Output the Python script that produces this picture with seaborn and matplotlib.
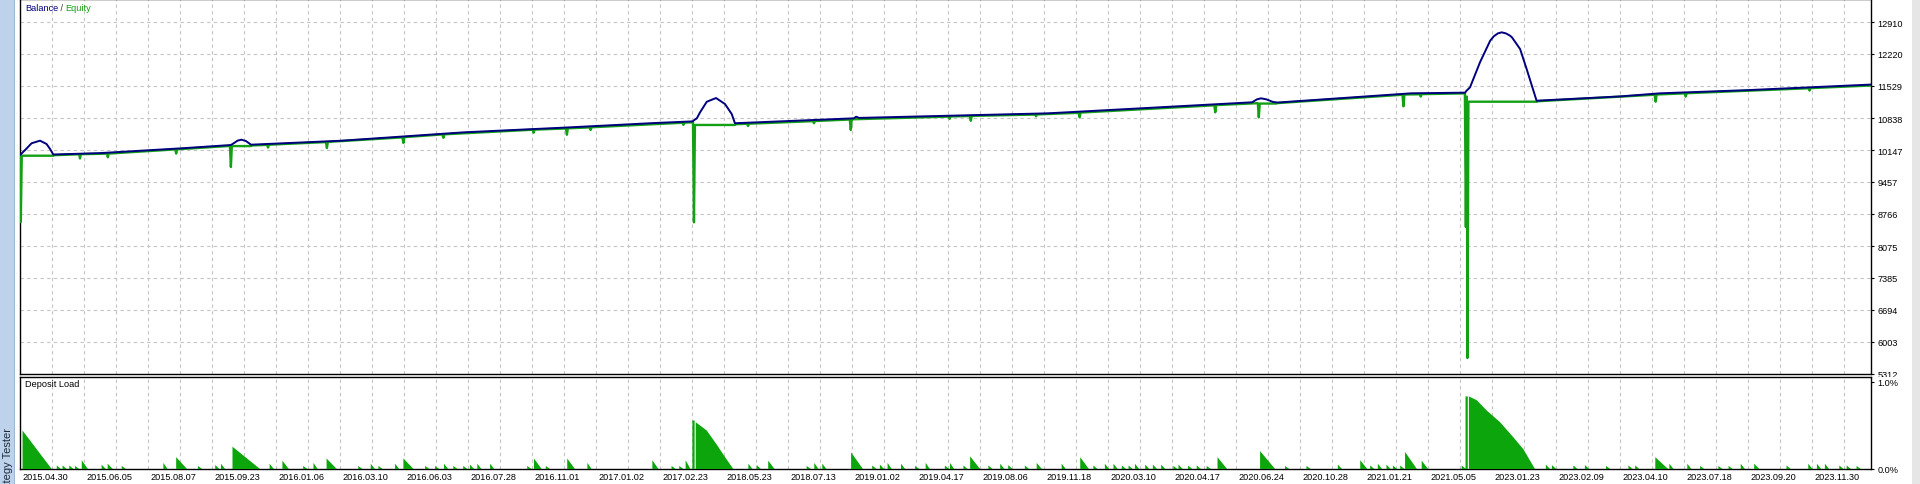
import matplotlib
matplotlib.use("Agg")
import matplotlib.pyplot as plt
import matplotlib.transforms as mtransforms
from matplotlib.patches import Rectangle
import seaborn as sns

# ---------------- data (x = trade number, y = account value) ----------------
balance_x = [0, 0.4, 2.1, 3.6, 6.25, 8.3, 9.4, 10.4, 25, 50.5, 65.9, 66.9, 68.0, 69.2, 70.6,
             72.2, 100.5, 138.75, 170, 198.4, 210.2, 210.6, 211.5, 212.5, 214.6, 217.5, 220.3,
             222.4, 223.4, 260.5, 261.3, 262.2, 321.25, 385, 386.5, 387.8, 389.5, 391.5, 393,
             434.7, 451.6, 451.9, 453.1, 456.25, 459.4, 460.5, 461.8, 463, 464.3, 465.5, 466.2,
             468.75, 470.8, 473.9, 500, 512.5, 540, 577.2, 578.4]
balance_y = [10040, 10065, 10183, 10292, 10349, 10277, 10169, 10050, 10080, 10184, 10255, 10298,
             10350, 10370, 10341, 10262, 10348, 10529, 10630, 10730, 10765, 10790, 10831, 10960,
             11189, 11269, 11140, 10924, 10725, 10831, 10866, 10840, 10939, 11177, 11240, 11263,
             11240, 11185, 11172, 11371, 11385, 11420, 11500, 12046, 12506, 12600, 12665, 12687,
             12665, 12620, 12580, 12327, 11895, 11211, 11304, 11371, 11440, 11556, 11560]

equity_x = [0, 0.25, 0.55, 10.4, 10.7, 18.5, 18.75, 19.0, 27.2, 27.45, 27.7, 48.5, 48.8, 49.1,
            65.6, 65.9, 66.2, 72.2, 72.5, 77.2, 77.5, 77.8, 95.6, 95.9, 96.2, 119.5, 119.8, 120.1,
            132.0, 132.3, 132.6, 160.2, 160.5, 160.8, 170.6, 170.9, 171.2, 178.0, 178.3, 178.6,
            207.0, 207.3, 207.6, 210.3, 210.6, 210.9, 223.4, 223.7, 227.2, 227.5, 227.8, 247.8,
            248.1, 248.4, 259.3, 259.6, 259.9, 290.2, 290.5, 290.8, 296.8, 297.1, 297.4, 317.2,
            317.5, 317.8, 330.8, 331.1, 331.4, 373.2, 373.5, 373.8, 386.8, 387.1, 387.4, 392.5,
            393.0, 432.0, 432.3, 432.6, 437.4, 437.7, 438.0, 451.5, 451.8, 452.1, 452.3, 452.6,
            474.0, 474.3, 510.8, 511.1, 511.4, 520.2, 520.5, 520.8, 558.9, 559.2, 559.5, 578.4]
equity_y = [10030, 8593, 10024, 10024, 10035, 10055, 9965, 10057, 10068, 9990, 10070, 10160,
            10070, 10162, 10235, 9780, 10232, 10232, 10245, 10258, 10200, 10262, 10318, 10190,
            10322, 10420, 10300, 10425, 10483, 10410, 10486, 10585, 10520, 10587, 10612, 10477,
            10615, 10635, 10580, 10638, 10735, 10690, 10738, 10745, 8586, 10688, 10688, 10705,
            10712, 10665, 10715, 10770, 10725, 10773, 10805, 10580, 10810, 10868, 10820, 10872,
            10880, 10779, 10884, 10912, 10875, 10915, 10950, 10853, 10955, 11112, 10961, 11117,
            11158, 10853, 11150, 11150, 11160, 11340, 11090, 11345, 11350, 11300, 11353, 11370,
            8485, 11300, 5657, 11190, 11190, 11200, 11340, 11190, 11345, 11370, 11300, 11373,
            11480, 11430, 11483, 11540]

# deposit load (%) : decaying ramps (start trade, peak %, end trade)
ramp_start = [0.8, 19.3, 27.4, 48.8, 66.4, 82.0, 95.8, 119.8, 160.6, 171.0, 197.6, 208.0,
              233.8, 259.7, 296.9, 317.7, 331.3, 374.2, 387.5, 418.8, 432.8, 438.0, 511.0, 541.9]
ramp_peak = [0.44, 0.10, 0.06, 0.135, 0.255, 0.095, 0.12, 0.12, 0.12, 0.12, 0.10, 0.10,
             0.095, 0.19, 0.145, 0.07, 0.135, 0.135, 0.205, 0.10, 0.195, 0.095, 0.135, 0.06]
ramp_end = [9.9, 21.2, 29.0, 52.2, 75.0, 84.0, 99.0, 123.0, 163.0, 173.4, 199.5, 209.5,
            235.8, 263.4, 300.0, 319.3, 334.0, 377.2, 392.2, 421.0, 436.5, 440.0, 515.0, 543.5]
# short load spikes (trade, %)
small_x = [11.5, 13.3, 15.4, 17.2, 25.5, 31.8, 44.8, 55.6, 61, 62.8, 78, 88.5, 91.7, 105.7,
           109.6, 112, 117.2, 126.6, 129.7, 132.5, 135.4, 138.5, 140.6, 142.9, 146.9, 158.5,
           164.3, 177.3, 203.6, 206, 227.6, 230.2, 245.8, 248.2, 250.7, 266.3, 268.7, 271.1,
           275.3, 279.7, 283, 289, 290.6, 294.8, 302.6, 306.3, 308.8, 314, 325.5, 335.4, 339,
           341.7, 344.3, 346.4, 348.4, 351.6, 354, 356.6, 360.4, 362, 365, 367.7, 370.8, 395.3,
           402, 411.8, 421.9, 424.3, 427, 429, 431.3, 450.5, 476.8, 478.7, 485.4, 489, 495.6,
           502.6, 504.7, 515.4, 521, 525, 530.7, 533.9, 537.7, 552, 558.8, 561.5, 564, 568.5,
           570.8, 573.9]
small_h = [0.04, 0.04, 0.04, 0.035, 0.05, 0.035, 0.07, 0.035, 0.045, 0.06, 0.06, 0.035, 0.07,
           0.035, 0.06, 0.035, 0.06, 0.035, 0.035, 0.06, 0.035, 0.035, 0.05, 0.06, 0.06, 0.035,
           0.035, 0.07, 0.035, 0.035, 0.06, 0.045, 0.035, 0.07, 0.06, 0.04, 0.05, 0.07, 0.06,
           0.035, 0.07, 0.04, 0.07, 0.04, 0.04, 0.06, 0.045, 0.04, 0.06, 0.04, 0.06, 0.06, 0.04,
           0.04, 0.06, 0.05, 0.05, 0.05, 0.035, 0.05, 0.04, 0.04, 0.035, 0.035, 0.035, 0.05,
           0.04, 0.06, 0.05, 0.04, 0.04, 0.04, 0.05, 0.045, 0.04, 0.045, 0.035, 0.04, 0.04,
           0.06, 0.06, 0.035, 0.035, 0.035, 0.06, 0.04, 0.06, 0.06, 0.06, 0.04, 0.04, 0.035]
# the two large load episodes
load2017_x = [210.1, 210.1, 210.8, 210.8, 211.15, 211.15, 214.6, 217.7, 220.8, 222.9]
load2017_y = [0, 0.555, 0.555, 0, 0, 0.535, 0.44, 0.28, 0.11, 0]
load2021_x = [451.7, 451.7, 452.4, 452.4, 452.75, 452.75, 455.2, 458.3, 462.5, 466.7, 469.8, 473.4]
load2021_y = [0, 0.83, 0.83, 0, 0, 0.83, 0.787, 0.67, 0.535, 0.36, 0.225, 0]

date_ticks = [0, 20, 40, 60, 80, 100, 120, 140, 160, 180, 200, 220, 240, 260, 280, 300, 320,
              340, 360, 380, 400, 420, 440, 460, 480, 500, 520, 540, 560]
date_labels = ["2015.04.30", "2015.06.05", "2015.08.07", "2015.09.23", "2016.01.06", "2016.03.10",
               "2016.06.03", "2016.07.28", "2016.11.01", "2017.01.02", "2017.02.23", "2018.05.23",
               "2018.07.13", "2019.01.02", "2019.04.17", "2019.08.06", "2019.11.18", "2020.03.10",
               "2020.04.17", "2020.06.24", "2020.10.28", "2021.01.21", "2021.05.05", "2023.01.23",
               "2023.02.09", "2023.04.10", "2023.07.18", "2023.09.20", "2023.11.30"]
grid_ticks = [0, 10, 20, 30, 40, 50, 60, 70, 80, 90, 100, 110, 120, 130, 140, 150, 160, 170,
              180, 190, 200, 210, 220, 230, 240, 250, 260, 270, 280, 290, 300, 310, 320, 330,
              340, 350, 360, 370, 380, 390, 400, 410, 420, 430, 440, 450, 460, 470, 480, 490,
              500, 510, 520, 530, 540, 550, 560, 570]
value_ticks = [5312, 6003, 6694, 7385, 8075, 8766, 9457, 10147, 10838, 11529, 12220, 12910]
load_ticks = [0.0, 1.0]
load_labels = ["0.0%", "1.0%"]

# ---------------- styling ----------------
sns.set_theme(style="white")
plt.rcParams['font.family'] = ['Liberation Sans', 'DejaVu Sans']
plt.rcParams['axes.edgecolor'] = 'black'
plt.rcParams['axes.linewidth'] = 1.0

BLUE = '#00007F'
GREEN = '#14A014'
LOADGREEN = '#0CA50C'
GRID = '#C4C4C4'
FS = 6.6

W, H = 1920, 485
fig = plt.figure(figsize=(19.2, 4.85), dpi=100)


def fx(px):
    return px / W


def fy(py):
    return 1 - py / H


ax = fig.add_axes([fx(20), fy(375), fx(1871) - fx(20), fy(0) - fy(375)])
ax2 = fig.add_axes([fx(20), fy(470), fx(1871) - fx(20), fy(377.5) - fy(470)])

# ---- top panel: balance / equity ----
sns.lineplot(x=equity_x, y=equity_y, ax=ax, color=GREEN, linewidth=1.7,
             estimator=None, sort=False, legend=False, zorder=3)
sns.lineplot(x=balance_x, y=balance_y, ax=ax, color=BLUE, linewidth=1.4,
             estimator=None, sort=False, legend=False, zorder=4)
ax.set_xlim(0, 578.4)
ax.set_ylim(5312, 13407)
ax.set_xlabel('')
ax.set_ylabel('')
ax.set_xticks(grid_ticks)
ax.set_yticks(value_ticks)
ax.set_yticklabels([str(v) for v in value_ticks])
ax.yaxis.tick_right()
ax.tick_params(axis='x', length=0, labelbottom=False)
ax.tick_params(axis='y', which='major', right=True, length=2.5, width=0.8, pad=2,
               labelsize=FS, colors='black')
ax.grid(True, which='major', color=GRID, linestyle=(0, (3, 3)), linewidth=0.8)
for s in ax.spines.values():
    s.set_color('black')
    s.set_linewidth(1.0)

t1 = ax.text((25 - 20) / 1851, 1 - 8.5 / 375, "Balance", transform=ax.transAxes,
             color=BLUE, fontsize=FS, va='center', ha='left', zorder=6)
t2 = ax.annotate(" / ", xy=(1, 0), xycoords=t1, va='bottom', ha='left',
                 color='#333333', fontsize=FS, zorder=6)
ax.annotate("Equity", xy=(1, 0), xycoords=t2, va='bottom', ha='left',
            color=GREEN, fontsize=FS, zorder=6)

# ---- bottom panel: deposit load ----
for s0, pk, e0 in zip(ramp_start, ramp_peak, ramp_end):
    ax2.fill([s0, s0, e0], [0, pk, 0], color=LOADGREEN, linewidth=0, zorder=3)
for sx, sh in zip(small_x, small_h):
    ax2.fill([sx, sx, sx + 1.3], [0, sh, 0], color=LOADGREEN, linewidth=0, zorder=3)
ax2.fill(load2017_x, load2017_y, color=LOADGREEN, linewidth=0, zorder=3)
ax2.fill(load2021_x, load2021_y, color=LOADGREEN, linewidth=0, zorder=3)

ax2.set_xlim(0, 578.4)
ax2.set_ylim(0, 1.058)
ax2.set_xticks(date_ticks)
ax2.set_xticklabels(date_labels)
ax2.set_xticks(grid_ticks, minor=True)
ax2.set_yticks(load_ticks)
ax2.set_yticklabels(load_labels)
ax2.yaxis.tick_right()
ax2.tick_params(axis='x', which='both', length=0, pad=2.2, labelsize=FS, colors='black')
ax2.tick_params(axis='y', which='major', right=True, length=2.5, width=0.8, pad=2,
                labelsize=FS, colors='black')
ax2.grid(True, axis='x', which='both', color=GRID, linestyle=(0, (3, 3)), linewidth=0.8)
ax2.grid(False, axis='y')
for s in ax2.spines.values():
    s.set_color('black')
    s.set_linewidth(1.0)
offset = mtransforms.ScaledTranslation(2 / 100, 0, fig.dpi_scale_trans)
for lbl in ax2.get_xticklabels():
    lbl.set_horizontalalignment('left')
    lbl.set_transform(lbl.get_transform() + offset)

ax2.text((25 - 20) / 1851, 1 - (385 - 377.5) / 92.5, "Deposit Load", transform=ax2.transAxes,
         color='black', fontsize=FS, va='center', ha='left', zorder=6)

# white strip hiding lower half of the bottom value label (as in the terminal)
ax2.add_patch(Rectangle((fx(1873), fy(382)), fx(40), 4.5 / H, transform=fig.transFigure,
                        facecolor='white', edgecolor='none', clip_on=False, zorder=0.5))

# ---- window chrome: left side bar and right edge ----
fig.patches.append(Rectangle((0, 0), fx(15), 1, transform=fig.transFigure,
                             facecolor='#BDD3EC', edgecolor='none', zorder=0))
fig.patches.append(Rectangle((fx(14), 0), fx(1.2), 1, transform=fig.transFigure,
                             facecolor='#9DB6D4', edgecolor='none', zorder=0))
fig.patches.append(Rectangle((fx(1912), 0), fx(8), 1, transform=fig.transFigure,
                             facecolor='#E6E6E6', edgecolor='none', zorder=0))
fig.text(fx(8), fy(428), "Strategy Tester", rotation=90, ha='center', va='top',
         fontsize=8, color='#1E2A3C')

fig.savefig("out.png", dpi=100, facecolor='white')
